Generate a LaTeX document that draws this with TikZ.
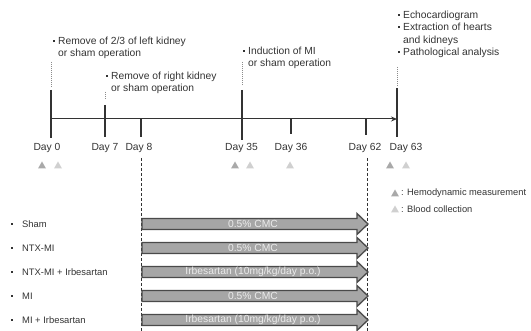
\documentclass[tikz,border=0pt]{standalone}
\usepackage{fontspec}
\setmainfont{Liberation Sans}
\usetikzlibrary{arrows.meta}
\definecolor{txt}{HTML}{333333}
\definecolor{barfill}{HTML}{A6A6A6}
\definecolor{barline}{HTML}{4A4A4A}
\definecolor{tridark}{HTML}{A9A9A9}
\definecolor{trilight}{HTML}{D0D0D0}
\newcommand\sqb{\rule[2.8pt]{2pt}{2pt}}
\newcommand\bul{\llap{\sqb\hspace{3.5pt}}}
\begin{document}
\begin{tikzpicture}[x=1pt,y=-1pt,
  every node/.style={font=\fontsize{10.3}{11.6}\selectfont, text=txt, inner sep=0pt},
  tline/.style={draw=txt, line width=1pt},
  tickthick/.style={draw=txt, line width=2.6pt},
  tickthin/.style={draw=txt, line width=1.6pt},
  guide/.style={draw=black!45, line width=0.8pt, dash pattern=on 1pt off 1pt},
  vdash/.style={draw=txt, line width=1pt, dash pattern=on 3pt off 2pt},
  daylbl/.style={anchor=base},
  blk/.style={anchor=north west, align=left},
  bar/.style={draw=barline, fill=barfill, line width=1.3pt},
  bartext/.style={text=white!92!black},
  legtext/.style={anchor=west, font=\fontsize{9.3}{11}\selectfont},
  grouptext/.style={anchor=west, font=\fontsize{9.4}{11}\selectfont},
  tri/.style={fill=tridark},
  tril/.style={fill=trilight}
]
\useasboundingbox (0,0) rectangle (531,331);

% timeline
\coordinate (t0) at (51,119);
\coordinate (tend) at (397,119);
\draw[tline, -{Stealth[length=6pt,width=5pt]}] (t0) -- (tend);

% ticks
\draw[tickthick] (51,90) -- (51,138);
\draw[tickthin] (105,105) -- (105,137);
\draw[tickthick] (141,119) -- (141,137);
\draw[tickthick] (242,90) -- (242,140);
\draw[tickthin] (291,119) -- (291,134);
\draw[tickthin] (366,119) -- (366,135);
\draw[tickthick] (397,88) -- (397,137);

% guides above
\draw[guide] (51,62) -- (51,88);
\draw[guide] (105,92) -- (105,100);
\draw[guide] (242,62) -- (242,86);
\draw[guide] (397,67) -- (397,86);

% day labels
\node[daylbl] (d0) at (47,151) {Day 0};
\node[daylbl] (d7) at (105,151) {Day 7};
\node[daylbl] (d8) at (139,151) {Day 8};
\node[daylbl] (d35) at (241.5,151) {Day 35};
\node[daylbl] (d36) at (291,151) {Day 36};
\node[daylbl] (d62) at (365,151) {Day 62};
\node[daylbl] (d63) at (406,151) {Day 63};

% triangles
\foreach \x/\s in {42/tri,58/tril,235/tri,250/tril,290/tril,390/tri,406/tril}{
  \path[\s] (\x-4,168.5) -- (\x+4,168.5) -- (\x,161.5) -- cycle;
}

% event texts
\node[blk] (e1) at (58,37.2) {\bul Remove of 2/3 of left kidney\\or sham operation};
\node[blk] (e2) at (111,71.8) {\bul Remove of right kidney\\or sham operation};
\node[blk] (e3) at (248,46.8) {\bul Induction of MI\\or sham operation};
\node[blk, font=\fontsize{10.3}{12.5}\selectfont] (e4) at (403,10.8) {\bul Echocardiogram\\\bul Extraction of hearts\\and kidneys\\\bul Pathological analysis};

% vertical dashed lines
\draw[vdash] (141,158) -- (141,331);
\draw[vdash] (367,158) -- (367,331);

% legend
\path[tri] (391,196.5) -- (399,196.5) -- (395,189.5) -- cycle;
\node[legtext] (l1) at (401,193) {: Hemodynamic measurement};
\path[tril] (391,212.5) -- (399,212.5) -- (395,205.5) -- cycle;
\node[legtext] (l2) at (401,209) {: Blood collection};

% groups and bars
\foreach \y/\g/\t in {224/Sham/{0.5\% CMC}, 248/NTX-MI/{0.5\% CMC}, 272/{NTX-MI + Irbesartan}/{Irbesartan (10mg/kg/day p.o.)}, 296/MI/{0.5\% CMC}, 320/{MI + Irbesartan}/{Irbesartan (10mg/kg/day p.o.)}}{
  \draw[bar] (142,\y-5.5) -- (357,\y-5.5) -- (357,\y-10.5) -- (368,\y) -- (357,\y+10.5) -- (357,\y+5.5) -- (142,\y+5.5) -- cycle;
  \node[bartext] at (253,\y) {\t};
  \node[grouptext] at (22,\y) {\g};
  \fill[txt] (11.2,\y-0.8) rectangle (12.8,\y+0.8);
}
\end{tikzpicture}
\end{document}
